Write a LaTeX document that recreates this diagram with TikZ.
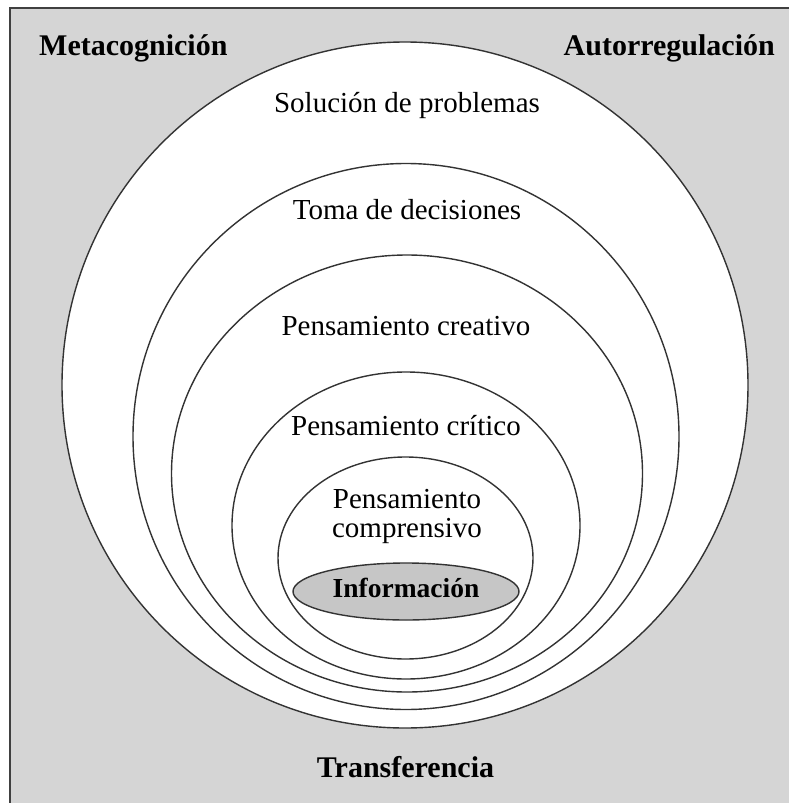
\documentclass[tikz,border=0pt]{standalone}
\usepackage{fontspec}
\setmainfont{Liberation Serif}
\definecolor{bgc}{HTML}{D5D5D5}
\definecolor{infoc}{HTML}{C6C6C6}
\definecolor{linec}{HTML}{333333}
\begin{document}
\begin{tikzpicture}[x=1pt,y=-1pt,
  ring/.style={draw=linec,line width=1.4pt,fill=white},
  reg/.style={inner sep=0pt,anchor=base,font=\fontsize{29}{35}\selectfont},
  bld/.style={inner sep=0pt,font=\fontsize{30}{36}\selectfont\bfseries}]
\useasboundingbox (0,0) rectangle (789,803);
\fill[bgc] (10,8) rectangle (789,803);
\draw[line width=2.5pt,color=black!75] (10,803) -- (10,8) -- (789,8);
% nested rings
\draw[ring] (405,385) circle[radius=343];
\draw[ring] (406,436.5) circle[radius=273];
\draw[ring] (407,473.5) ellipse[x radius=235.5,y radius=218.5];
\draw[ring] (406,525.5) ellipse[x radius=174,y radius=153.5];
\draw[ring] (405.5,558) ellipse[x radius=127.5,y radius=101];
\draw[draw=linec,line width=1.4pt,fill=infoc] (406,591.5) ellipse[x radius=113,y radius=28.5];
% labels
\node[bld,anchor=base west] (meta) at (39,55) {Metacognición};
\node[bld,anchor=base east] (auto) at (775,55) {Autorregulación};
\node[reg] (sol) at (407,112) {Solución de problemas};
\node[reg] (toma) at (407,219) {Toma de decisiones};
\node[reg] (crea) at (406,335) {Pensamiento creativo};
\node[reg] (crit) at (406,435) {Pensamiento crítico};
\node[reg] (comp1) at (407,508) {Pensamiento};
\node[reg] (comp2) at (407,537) {comprensivo};
\node[bld,anchor=base,font=\fontsize{27.5}{33}\selectfont\bfseries] (info) at (406,597) {Información};
\node[bld,anchor=base] (trans) at (405.5,777) {Transferencia};
\end{tikzpicture}
\end{document}
